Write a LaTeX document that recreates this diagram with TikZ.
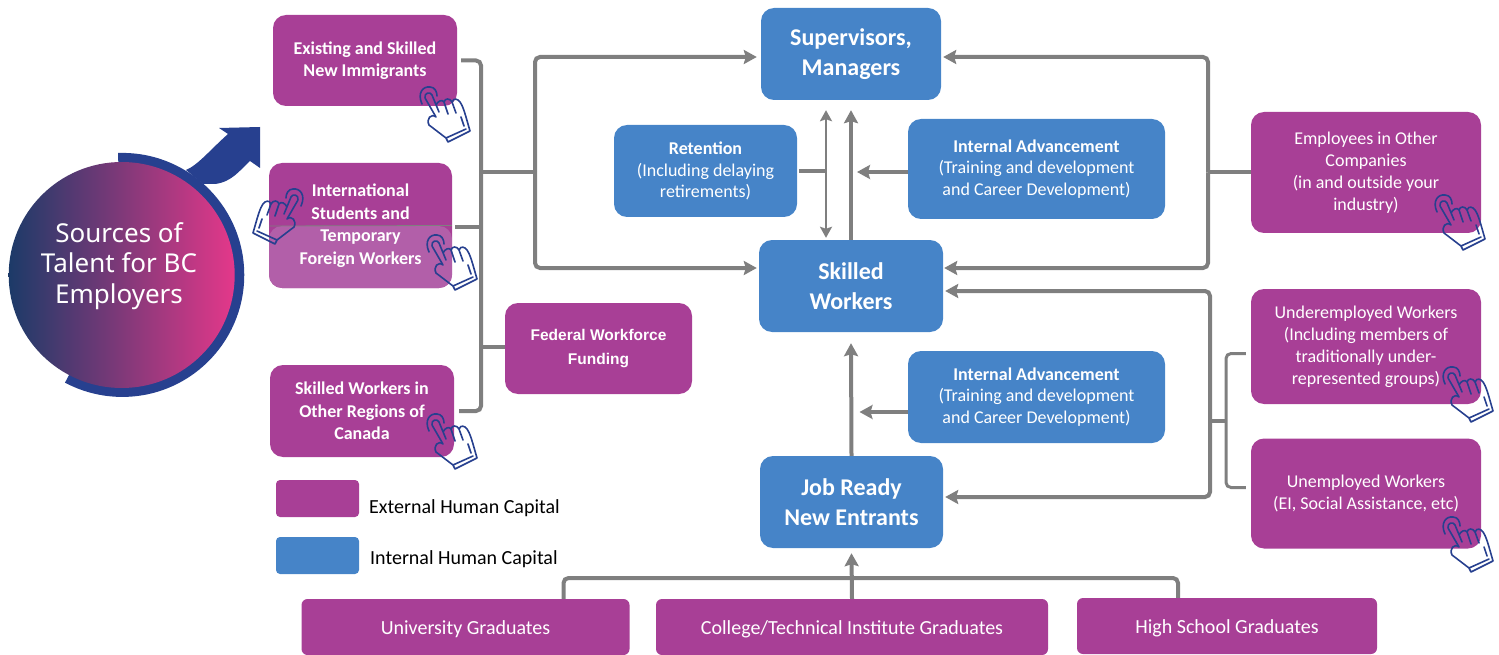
\documentclass[tikz,border=0pt]{standalone}
\usepackage{fontspec}
\setmainfont{Carlito}
\newfontfamily\circlefont{Noto Sans}
\newfontfamily\federalfont{Liberation Sans}
\usetikzlibrary{arrows.meta}

\definecolor{extpurple}{HTML}{A83F96}
\definecolor{extlight}{HTML}{B25FA9}
\definecolor{intblue}{HTML}{4684C8}
\definecolor{connGray}{HTML}{7F7F7F}
\definecolor{navy}{HTML}{27408F}
\definecolor{circleLeft}{HTML}{1C3A68}
\definecolor{circleRight}{HTML}{E4388A}

\tikzset{
  hand/.pic={
    \draw[navy, line width=1.6pt, line join=round, line cap=round, fill=none]
      (-6,9) .. controls (-11,-2) and (-5,-9) .. (2,-8) .. controls (7,-8) and (9,-3) .. (9,1)
      (-3,3) .. controls (-4,-2) and (2,-4) .. (4,0) -- (11,17)
      (-3,3) -- (8,22) .. controls (3,18) and (-2,24) .. (1,30) -- (18,43) -- (20,47) -- (42,36) -- (38,22)
      .. controls (35,12) and (33,7) .. (30,5) .. controls (27,3) and (24,5) .. (24,7)
      .. controls (22,3) and (17,3) .. (16,7) .. controls (14,4) and (10,6) .. (8,10)
      (16,7) -- (20,19) (24,7) -- (28,18) (18,43) -- (38,34) (33,22) -- (36,31);
  }
}

\begin{document}
\begin{tikzpicture}[x=1pt, y=-1pt]
    \tikzstyle{extbox} = [rectangle, fill=extpurple, rounded corners=13pt, inner sep=0pt, align=center, text=white, font=\fontsize{18}{22}\selectfont]
    \tikzstyle{extbold} = [extbox, font=\fontsize{18}{22.5}\selectfont\bfseries]
    \tikzstyle{intbox} = [rectangle, fill=intblue, rounded corners=13pt, inner sep=0pt, align=center, text=white, font=\fontsize{18}{21.5}\selectfont]
    \tikzstyle{mainbox} = [intbox, font=\fontsize{24}{29.5}\selectfont\bfseries]
    \tikzstyle{gradbox} = [extbox, rounded corners=6pt, font=\fontsize{20}{24}\selectfont, minimum height=56pt, execute at begin node={\rule{0pt}{18pt}}]
    \tikzstyle{legendtext} = [inner sep=0pt, anchor=west, font=\fontsize{20}{24}\selectfont]
    \tikzstyle{conn} = [draw=connGray, line width=4pt, rounded corners=5pt]
    \tikzstyle{connarrow} = [conn, -{Stealth[length=13pt, width=14pt, inset=2pt]}]
    \tikzstyle{thinarrow} = [draw=connGray, line width=2.5pt, {Stealth[length=11pt, width=12pt, inset=2pt]}-{Stealth[length=11pt, width=12pt, inset=2pt]}]

    \useasboundingbox (0,0) rectangle (1499,655);

    % Sources circle
    \fill[navy] (118,153) arc[start angle=-92, end angle=118, radius=122] -- (122,275) -- cycle;
    \fill[navy] (186,170) .. controls (198,165) and (210,150) .. (228,134) -- (219,128) -- (260,127)
        -- (260,168) -- (250,161) .. controls (240,170) and (232,182) .. (215,184) -- (203,184) -- cycle;
    \node[circle, minimum size=226pt, inner sep=0pt, left color=circleLeft, right color=circleRight] (sources) at (121.7,275) {};
    \node[inner sep=0pt, text=white, align=center, font=\circlefont\fontsize{26}{30.5}\selectfont] (sourcestext) at (119,266)
        {Sources of\\Talent for BC\\Employers};

    % External sources, left
    \node[extbold, minimum width=184pt, minimum height=91pt] (existing) at (365,60.5) {Existing and Skilled\\New Immigrants};
    \node[extbold, minimum width=183pt, minimum height=125pt,
        path picture={\fill[extlight] (path picture bounding box.west) ++(0,0.5) rectangle (path picture bounding box.south east);
            \draw[connGray, line width=0.8pt] (path picture bounding box.west) ++(0,0.5) -- (path picture bounding box.east);}]
        (intl) at (360.5,225.5) {International\\Students and\\Temporary\\Foreign Workers};
    \node[extbold, minimum width=184pt, minimum height=92pt] (otherreg) at (362,411) {Skilled Workers in\\Other Regions of\\Canada};
    \node[extbold, font=\federalfont\fontsize{15.5}{24}\selectfont\bfseries, minimum width=187pt, minimum height=91pt] (federal) at (598.5,348.5) {Federal Workforce\\Funding};

    % Internal boxes
    \node[mainbox, minimum width=180pt, minimum height=92pt] (super) at (851,54) {Supervisors,\\Managers};
    \node[mainbox, minimum width=184pt, minimum height=92pt] (skilled) at (851,286) {Skilled\\Workers};
    \node[mainbox, minimum width=183pt, minimum height=92pt] (jobready) at (851.5,502) {Job Ready\\New Entrants};
    \node[intbox, minimum width=183pt, minimum height=92pt] (retention) at (705.5,171) {\textbf{Retention}\\(Including delaying\\retirements)};
    \node[intbox, minimum width=257pt, minimum height=100pt] (advone) at (1036.5,169) {\textbf{Internal Advancement}\\(Training and development\\and Career Development)};
    \node[intbox, minimum width=257pt, minimum height=92pt] (advtwo) at (1036.5,397) {\textbf{Internal Advancement}\\(Training and development\\and Career Development)};

    % External sources, right
    \node[extbox, minimum width=230pt, minimum height=121pt] (employees) at (1366,172.5) {Employees in Other\\Companies\\(in and outside your\\industry)};
    \node[extbox, minimum width=230pt, minimum height=115pt] (underemp) at (1366,346.5) {Underemployed Workers\\(Including members of\\traditionally under-\\represented groups)};
    \node[extbox, minimum width=230pt, minimum height=110pt] (unemp) at (1366,493.5) {Unemployed Workers\\(EI, Social Assistance, etc)};

    % Graduates
    \node[gradbox, minimum width=328pt] (univ) at (465.5,627) {University Graduates};
    \node[gradbox, minimum width=392pt] (college) at (852,627) {College/Technical Institute Graduates};
    \node[gradbox, minimum width=300pt] (highschool) at (1227,626) {High School Graduates};

    % Legend
    \node[extbox, rounded corners=4pt, minimum width=83pt, minimum height=37pt] (legext) at (317.5,498.5) {};
    \node[intbox, rounded corners=4pt, minimum width=83pt, minimum height=37pt] (legint) at (317.5,555.5) {};
    \node[legendtext] (legexttext) at (369,508) {External Human Capital};
    \node[legendtext] (leginttext) at (370,559) {Internal Human Capital};

    % Junctions
    \coordinate (leftbus) at (481,172);
    \coordinate (lefttrunk) at (535,172);
    \coordinate (rightbus) at (1208,172.5);
    \coordinate (lowbus) at (1210,421);
    \coordinate (lowbracket) at (1226,421);
    \coordinate (gradbus) at (850,578);

    % Left connectors
    \draw[conn] ([xshift=4pt]existing.east) -| (leftbus |- otherreg.east) -- ([xshift=5pt]otherreg.east);
    \draw[conn, rounded corners=0pt] ([xshift=3pt,yshift=-2pt]intl.east) -- ([yshift=-2pt]leftbus |- intl.east);
    \draw[conn, rounded corners=0pt] ([yshift=2pt]leftbus |- federal.west) -- ([yshift=2pt]federal.west);
    \draw[conn, rounded corners=0pt] (leftbus) -- (lefttrunk);
    \draw[connarrow] (lefttrunk) |- ([xshift=-4pt,yshift=-3pt]super.west);
    \draw[connarrow] (lefttrunk) |- ([xshift=-2pt,yshift=18pt]skilled.west);

    % Right connectors
    \draw[conn, rounded corners=0pt] (employees.west) -- (rightbus);
    \draw[connarrow] (rightbus) |- ([xshift=2pt,yshift=-3pt]super.east);
    \draw[connarrow] (rightbus) |- ([xshift=1pt,yshift=18pt]skilled.east);
    \draw[connarrow] (lowbus) |- ([xshift=2pt,yshift=-5pt]skilled.east);
    \draw[connarrow] (lowbus) |- ([xshift=2pt,yshift=5pt]jobready.east);
    \draw[conn, rounded corners=0pt] (lowbus) -- (lowbracket);
    \draw[conn, line width=3pt] ([xshift=-5pt,yshift=-7pt]underemp.west) -| (lowbracket) |- ([xshift=-5pt,yshift=6pt]unemp.west);

    % Centre arrows
    \draw[conn, rounded corners=0pt] ([xshift=2pt]retention.east) -- (826,171);
    \draw[thinarrow] ([xshift=-25pt,yshift=-10pt]super.south) -- ([xshift=-25pt,yshift=2pt]skilled.north);
    \draw[connarrow] (skilled.north) -- ([yshift=-10pt]super.south);
    \draw[connarrow] ([yshift=-3pt]advone.west) -- ([xshift=6pt,yshift=-3pt]advone.west -| skilled.north);
    \draw[connarrow] ([yshift=-15pt]advtwo.west) -- ([xshift=8pt,yshift=-15pt]advtwo.west -| jobready.north);
    \draw[connarrow] (jobready.north) -- ([yshift=-11pt]skilled.south);

    % Graduates connectors
    \draw[conn] ([xshift=98pt]univ.north) |- (gradbus) -| ([xshift=-49pt]highschool.north);
    \draw[connarrow] (college.north) -- ([yshift=-5pt]jobready.south);

    % Hands
    \pic at (428,95) {hand};
    \pic[xscale=-1] at (295,197) {hand};
    \pic at (435,243) {hand};
    \pic at (435,422) {hand};
    \pic at (1443,203) {hand};
    \pic at (1451,375) {hand};
    \pic at (1451,525) {hand};
\end{tikzpicture}
\end{document}
